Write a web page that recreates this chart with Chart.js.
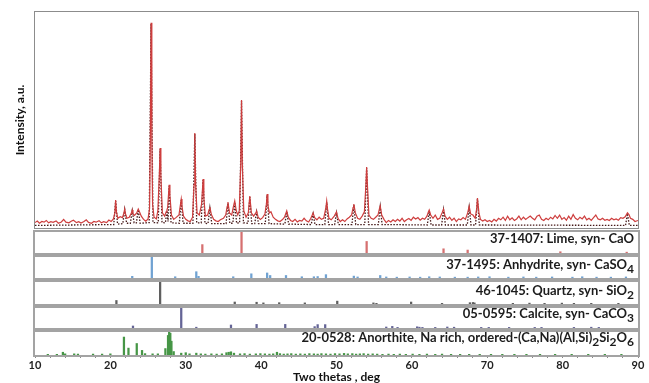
<html>
<head>
  <title>XRD pattern</title>
  <script src="https://cdn.jsdelivr.net/npm/chart.js"></script>
  <style>
    body { margin: 0; background: #fff; }
    #wrap { position: relative; width: 649px; height: 383px; overflow: hidden; }
    #wrap canvas { position: absolute; left: 0; }
  </style>
</head>

<body>
  <div id="wrap"></div>
  <script>
    // measured pattern [2theta, intensity a.u.]
    const observed = [
      [10.0, 25], [10.3, 32], [10.6, 22], [10.9, 30], [11.2, 27], [11.5, 35], [11.8, 24], [12.1, 29], [12.4, 26], [12.8, 33],
      [13.1, 22], [13.5, 28], [13.8, 40], [14.1, 27], [14.5, 24], [14.8, 31], [15.1, 36], [15.5, 25], [15.8, 29], [16.1, 23],
      [16.5, 30], [16.8, 38], [17.1, 26], [17.5, 22], [17.8, 30], [18.1, 27], [18.5, 34], [18.8, 24], [19.1, 29], [19.5, 25],
      [19.8, 37], [20.1, 30], [20.4, 42], [20.6, 70], [20.7, 130], [20.8, 75], [21.0, 45], [21.3, 52], [21.6, 48], [21.8, 70],
      [21.9, 88], [22.0, 66], [22.2, 45], [22.5, 50], [22.8, 70], [22.9, 83], [23.0, 65], [23.2, 58], [23.5, 70], [23.7, 88],
      [23.9, 72], [24.1, 55], [24.4, 40], [24.7, 32], [25.0, 42], [25.2, 90], [25.3, 400], [25.4, 950], [25.5, 420], [25.6, 110],
      [25.8, 50], [26.1, 42], [26.3, 80], [26.5, 250], [26.6, 370], [26.7, 240], [26.9, 70], [27.2, 55], [27.4, 75], [27.5, 83],
      [27.6, 95], [27.8, 200], [27.9, 150], [28.1, 60], [28.4, 40], [28.7, 48], [29.1, 60], [29.3, 110], [29.4, 134], [29.5, 100],
      [29.7, 55], [30.0, 40], [30.3, 33], [30.6, 30], [30.9, 50], [31.1, 200], [31.2, 440], [31.3, 210], [31.5, 70], [31.8, 60],
      [32.1, 110], [32.3, 227], [32.4, 140], [32.6, 55], [32.9, 60], [33.1, 85], [33.2, 97], [33.4, 62], [33.7, 40], [34.0, 33],
      [34.3, 30], [34.6, 38], [35.0, 45], [35.3, 60], [35.5, 100], [35.6, 120], [35.8, 70], [36.1, 60], [36.3, 95], [36.5, 125],
      [36.7, 80], [36.9, 60], [37.1, 80], [37.3, 300], [37.4, 593], [37.5, 300], [37.7, 80], [38.0, 50], [38.3, 70], [38.5, 148],
      [38.7, 70], [39.0, 55], [39.3, 70], [39.4, 79], [39.6, 50], [39.9, 40], [40.2, 48], [40.5, 65], [40.7, 110], [40.8, 157],
      [40.9, 105], [41.1, 70], [41.3, 75], [41.6, 50], [41.9, 40], [42.2, 33], [42.5, 30], [42.8, 38], [43.1, 50], [43.4, 79],
      [43.6, 50], [43.9, 35], [44.2, 30], [44.5, 40], [44.8, 28], [45.1, 35], [45.4, 32], [45.7, 45], [46.0, 33], [46.3, 28],
      [46.6, 45], [46.9, 70], [47.1, 48], [47.4, 38], [47.7, 50], [48.0, 40], [48.3, 45], [48.6, 95], [48.7, 125], [48.8, 90],
      [49.0, 45], [49.3, 38], [49.7, 55], [50.0, 74], [50.2, 45], [50.5, 30], [50.8, 38], [51.1, 30], [51.4, 42], [51.7, 50],
      [52.0, 60], [52.2, 95], [52.3, 111], [52.5, 70], [52.8, 45], [53.1, 40], [53.4, 55], [53.7, 75], [53.9, 200], [54.0, 282],
      [54.1, 200], [54.3, 60], [54.6, 45], [54.9, 40], [55.2, 50], [55.5, 60], [55.7, 90], [55.8, 102], [56.0, 60], [56.3, 40],
      [56.6, 25], [56.9, 35], [57.2, 28], [57.5, 38], [57.8, 30], [58.1, 40], [58.4, 32], [58.7, 45], [59.0, 30], [59.3, 38],
      [59.6, 44], [59.9, 35], [60.2, 50], [60.5, 42], [60.8, 48], [61.1, 36], [61.4, 45], [61.7, 40], [62.0, 55], [62.2, 75],
      [62.3, 83], [62.5, 60], [62.8, 45], [63.1, 60], [63.4, 40], [63.7, 45], [64.0, 70], [64.2, 88], [64.4, 55], [64.7, 40],
      [65.0, 50], [65.3, 35], [65.6, 45], [65.9, 30], [66.2, 42], [66.5, 38], [66.8, 48], [67.1, 40], [67.4, 70], [67.6, 100],
      [67.8, 65], [68.1, 60], [68.4, 45], [68.6, 90], [68.7, 139], [68.9, 70], [69.1, 40], [69.4, 32], [69.7, 38], [70.0, 30],
      [70.3, 35], [70.6, 28], [70.9, 40], [71.2, 32], [71.5, 45], [71.8, 38], [72.1, 50], [72.4, 35], [72.7, 55], [73.0, 38],
      [73.3, 47], [73.6, 35], [73.9, 42], [74.2, 55], [74.5, 38], [74.8, 50], [75.1, 40], [75.4, 48], [75.7, 55], [76.0, 45],
      [76.3, 38], [76.6, 55], [76.9, 60], [77.2, 40], [77.5, 35], [77.8, 45], [78.1, 38], [78.4, 50], [78.7, 42], [79.0, 58],
      [79.3, 45], [79.6, 60], [79.9, 40], [80.2, 48], [80.5, 36], [80.8, 55], [81.1, 40], [81.4, 62], [81.7, 45], [82.0, 38],
      [82.3, 50], [82.6, 42], [82.9, 55], [83.2, 38], [83.5, 45], [83.8, 35], [84.1, 48], [84.4, 60], [84.7, 42], [85.0, 38],
      [85.3, 45], [85.6, 36], [85.9, 40], [86.2, 35], [86.5, 45], [86.8, 38], [87.1, 42], [87.4, 36], [87.7, 48], [88.0, 45],
      [88.3, 52], [88.6, 70], [88.8, 62], [89.0, 45], [89.3, 40], [89.6, 30], [90.0, 35]
    ];

    // fitted profile (dotted)
    const calculated = [
      [10.0, 12], [20.45, 16], [20.7, 125], [20.95, 18], [21.65, 20], [21.9, 85], [22.15, 22], [22.65, 22], [22.9, 80], [23.15, 24],
      [23.45, 24], [23.7, 85], [23.95, 22], [25.15, 25], [25.4, 945], [25.65, 25], [26.35, 24], [26.6, 365], [26.85, 25], [27.3, 24],
      [27.5, 80], [27.65, 30], [27.8, 195], [28.05, 24], [29.15, 22], [29.4, 130], [29.65, 22], [30.95, 22], [31.2, 435], [31.45, 24],
      [32.05, 24], [32.3, 222], [32.55, 22], [32.95, 20], [33.2, 92], [33.45, 20], [35.35, 20], [35.6, 115], [35.85, 22], [36.25, 22],
      [36.5, 120], [36.75, 22], [37.15, 24], [37.4, 588], [37.65, 24], [38.25, 22], [38.5, 143], [38.75, 20], [39.15, 20], [39.4, 75],
      [39.65, 20], [40.55, 20], [40.8, 152], [41.05, 20], [43.15, 18], [43.4, 75], [43.65, 18], [46.65, 16], [46.9, 65], [47.15, 16],
      [48.45, 16], [48.7, 120], [48.95, 16], [49.75, 16], [50.0, 70], [50.25, 16], [52.05, 16], [52.3, 106], [52.55, 16], [53.75, 16],
      [54.0, 277], [54.25, 16], [55.55, 16], [55.8, 98], [56.05, 16], [62.05, 14], [62.3, 78], [62.55, 14], [63.95, 14], [64.2, 84],
      [64.45, 14], [67.35, 14], [67.6, 95], [67.85, 14], [68.45, 14], [68.7, 134], [68.95, 14], [88.35, 12], [88.6, 66], [88.85, 12],
      [90.0, 12]
    ];

    // reference sticks [2theta, relative intensity %]
    const limeSticks = [[32.2, 40], [37.4, 100], [54.0, 55], [64.2, 20], [67.4, 14], [79.7, 6], [88.5, 4]];
    const anhydriteSticks = [
      [22.9, 8], [25.5, 100], [28.6, 6], [31.4, 30], [31.7, 8], [36.3, 6], [38.7, 20], [40.8, 24], [41.2, 12], [43.3, 12],
      [45.4, 6], [47.0, 6], [47.5, 7], [48.6, 16], [52.3, 9], [52.8, 5], [55.8, 12], [56.6, 5], [58.0, 4], [59.7, 5],
      [61.1, 4], [62.3, 6], [63.7, 5], [65.7, 4], [67.4, 4], [68.8, 5], [70.3, 6], [72.8, 4], [74.8, 5], [76.5, 4],
      [78.6, 5], [81.3, 4], [82.6, 6], [84.5, 4], [86.4, 4], [88.4, 5]
    ];
    const quartzSticks = [
      [20.8, 16], [26.6, 100], [36.5, 9], [39.4, 8], [40.3, 5], [42.4, 6], [45.8, 5], [50.1, 13], [54.9, 5], [55.3, 3],
      [59.9, 9], [64.0, 3], [67.7, 6], [68.1, 7], [68.3, 5], [73.4, 3], [75.6, 4], [77.6, 3], [79.9, 4], [81.5, 3],
      [83.8, 3], [87.4, 3]
    ];
    const calciteSticks = [
      [23.0, 10], [29.4, 100], [31.4, 4], [36.0, 15], [39.4, 18], [43.2, 18], [47.1, 7], [47.5, 17], [48.5, 17], [56.6, 5],
      [57.4, 8], [58.1, 3], [60.7, 6], [61.0, 4], [61.4, 3], [63.1, 3], [64.7, 5], [65.6, 4], [69.2, 3], [70.2, 3],
      [72.9, 3], [76.3, 3], [77.2, 3], [81.5, 3], [83.8, 4], [84.8, 3]
    ];
    const anorthiteSticks = [
      [11.7, 3], [12.9, 3], [13.7, 12], [14.0, 5], [15.2, 5], [15.7, 4], [17.7, 4], [18.9, 4], [20.0, 5], [21.8, 78],
      [22.4, 30], [23.5, 50], [24.2, 20], [24.6, 6], [25.6, 5], [26.3, 5], [27.3, 28], [27.65, 85], [27.8, 100], [27.95, 95],
      [28.1, 60], [28.4, 15], [29.4, 8], [30.0, 10], [30.5, 5], [31.4, 8], [32.0, 5], [32.6, 4], [33.4, 5], [34.1, 4],
      [34.8, 5], [35.4, 10], [35.7, 12], [36.0, 14], [36.4, 8], [37.2, 5], [37.8, 6], [38.5, 4], [39.3, 5], [39.9, 6],
      [40.5, 5], [41.1, 4], [41.6, 5], [42.1, 12], [42.5, 6], [43.0, 4], [43.5, 5], [44.0, 6], [44.6, 4], [45.2, 5],
      [45.8, 4], [46.4, 6], [47.0, 5], [47.5, 4], [48.0, 6], [48.6, 5], [49.2, 4], [49.8, 6], [50.4, 5], [51.0, 7],
      [51.5, 5], [52.1, 6], [52.6, 4], [53.1, 5], [53.6, 6], [54.2, 4], [54.8, 5], [55.4, 4], [56.1, 3], [56.9, 4],
      [57.6, 3], [58.4, 4], [59.2, 3], [60.1, 4], [61.0, 3], [62.0, 4], [63.1, 3], [64.0, 4], [65.2, 3], [66.4, 3],
      [67.6, 3], [69.0, 3], [70.5, 3], [72.0, 3], [73.6, 3], [75.2, 3], [77.0, 3], [79.0, 3], [81.2, 3], [83.4, 3],
      [85.6, 3], [87.8, 3]
    ];

    // phase labels, [text, isSubscript]
    const limeLabel = [['37-1407: Lime, syn- CaO', 0]];
    const anhydriteLabel = [['37-1495: Anhydrite, syn- CaSO', 0], ['4', 1]];
    const quartzLabel = [['46-1045: Quartz, syn- SiO', 0], ['2', 1]];
    const calciteLabel = [['05-0595: Calcite, syn- CaCO', 0], ['3', 1]];
    const anorthiteLabel = [['20-0528: Anorthite, Na rich, ordered-(Ca,Na)(Al,Si)', 0], ['2', 1], ['Si', 0], ['2', 1], ['O', 0], ['6', 1]];

    const xTicks = [10, 20, 30, 40, 50, 60, 70, 80, 90];

    const toPoints = arr => arr.map(([x, y]) => ({ x: x, y: y }));

    // box around the plot area
    const framePlugin = {
      id: 'frame',
      afterDatasetsDraw(chart, args, opts) {
        const { ctx, chartArea: a } = chart;
        const w = opts.width;
        ctx.save();
        ctx.strokeStyle = opts.color;
        ctx.lineWidth = w;
        ctx.strokeRect(a.left - w / 2, a.top - w / 2, a.right - a.left + w, a.bottom - a.top + w);
        ctx.restore();
      }
    };

    // phase name at the right of each stick panel
    const labelPlugin = {
      id: 'panelLabel',
      afterDraw(chart, args, opts) {
        if (!opts.segments) return;
        const { ctx, chartArea: a } = chart;
        const big = 'bold 13px Lato', small = 'bold 12px Lato';
        ctx.save();
        ctx.fillStyle = '#1c1c1c';
        ctx.textBaseline = 'alphabetic';
        let total = 0;
        opts.segments.forEach(([t, s]) => { ctx.font = s ? small : big; total += ctx.measureText(t).width; });
        let x = a.right - 4 - total;
        const y = a.top + opts.baseline;
        opts.segments.forEach(([t, s]) => {
          ctx.font = s ? small : big;
          ctx.fillText(t, x, s ? y + 4 : y);
          x += ctx.measureText(t).width;
        });
        ctx.restore();
      }
    };

    const wrap = document.getElementById('wrap');
    function addCanvas(top, height) {
      const c = document.createElement('canvas');
      c.width = 649;
      c.height = height;
      c.style.top = top + 'px';
      wrap.appendChild(c);
      return c;
    }

    // main pattern
    new Chart(addCanvas(0, 232), {
      type: 'line',
      data: {
        datasets: [
          { data: toPoints(observed), borderColor: 'rgb(206,62,62)', borderWidth: 1.2, pointRadius: 0, tension: 0 },
          { data: toPoints(calculated), borderColor: 'rgb(70,25,25)', borderWidth: 1.3, borderDash: [1.5, 1.5], pointRadius: 0, tension: 0 }
        ]
      },
      options: {
        responsive: false,
        animation: false,
        layout: { padding: { top: 12, bottom: 4, right: 11 } },
        plugins: {
          legend: { display: false },
          tooltip: { enabled: false },
          frame: { color: '#8c8c8c', width: 1 }
        },
        scales: {
          x: { type: 'linear', min: 10, max: 90, display: false },
          y: {
            min: 0, max: 1000,
            ticks: { display: false },
            grid: { display: false },
            border: { display: false },
            title: {
              display: true, text: 'Intensity, a.u.', color: '#111',
              font: { family: 'Lato', size: 12, weight: 'bold', lineHeight: 1 },
              padding: { top: 14, bottom: 0 }
            },
            afterFit: s => { s.width = 35; }
          }
        }
      },
      plugins: [framePlugin]
    });

    // stick panels
    const panels = [
      { sticks: limeSticks, color: 'rgb(214,112,112)', label: limeLabel, top: 232, height: 21, baseline: 11 },
      { sticks: anhydriteSticks, color: 'rgb(112,162,210)', label: anhydriteLabel, top: 257, height: 21, baseline: 12 },
      { sticks: quartzSticks, color: 'rgb(95,95,95)', label: quartzLabel, top: 282, height: 22, baseline: 13 },
      { sticks: calciteSticks, color: 'rgb(100,100,150)', label: calciteLabel, top: 308, height: 20, baseline: 10 },
      { sticks: anorthiteSticks, color: 'rgb(70,150,70)', label: anorthiteLabel, top: 332, height: 23, baseline: 10 }
    ];

    panels.forEach((p, i) => {
      const last = i === panels.length - 1;
      const canvasTop = p.top - 3;
      const canvasH = last ? 383 - canvasTop : p.height + 6;
      const xScale = last ? {
        type: 'linear', min: 10, max: 90, offset: false,
        ticks: {
          stepSize: 2, autoSkip: false, maxRotation: 0, padding: 1, color: '#222',
          font: { family: 'Lato', size: 11, weight: 'bold' },
          callback: v => xTicks.includes(v) ? v : ''
        },
        grid: { drawOnChartArea: false, tickLength: 3, color: '#888', offset: false },
        border: { display: false },
        title: {
          display: true, text: 'Two thetas , deg', color: '#111',
          font: { family: 'Lato', size: 12, weight: 'bold', lineHeight: 1 },
          padding: { top: 0, bottom: 0 }
        },
        afterFit: s => { s.height = 383 - (p.top + p.height); }
      } : { type: 'linear', min: 10, max: 90, offset: false, display: false };

      new Chart(addCanvas(canvasTop, canvasH), {
        type: 'bar',
        data: {
          datasets: [{ data: toPoints(p.sticks), backgroundColor: p.color, borderWidth: 0, barThickness: 1.6 }]
        },
        options: {
          responsive: false,
          animation: false,
          layout: { padding: { top: 3, bottom: last ? 0 : 3, left: 35, right: 11 } },
          plugins: {
            legend: { display: false },
            tooltip: { enabled: false },
            frame: { color: '#a3a3a3', width: 2 },
            panelLabel: { segments: p.label, baseline: p.baseline }
          },
          scales: {
            x: xScale,
            y: { min: 0, max: 100, display: false }
          }
        },
        plugins: [framePlugin, labelPlugin]
      });
    });
  </script>
</body>

</html>
